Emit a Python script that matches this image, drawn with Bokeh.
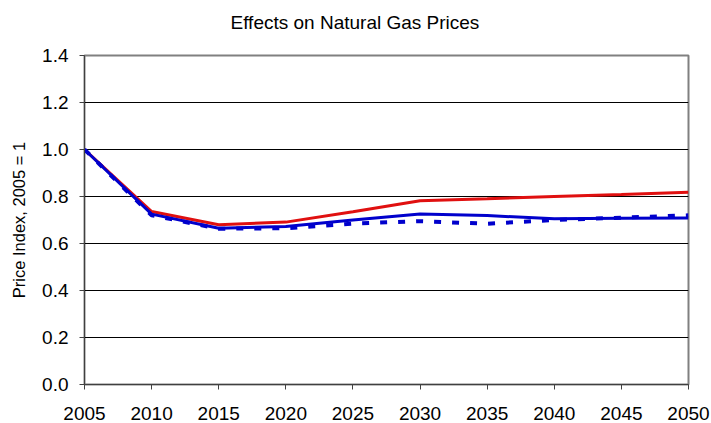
from bokeh.plotting import figure
from bokeh.models import Range1d, FixedTicker, NumeralTickFormatter
from bokeh.embed import file_html
from bokeh.resources import INLINE

years = [2005, 2010, 2015, 2020, 2025, 2030, 2035, 2040, 2045, 2050]
red_series = [1.0, 0.736, 0.680, 0.691, 0.735, 0.782, 0.790, 0.800, 0.808, 0.818]
blue_solid = [1.0, 0.725, 0.665, 0.672, 0.700, 0.726, 0.719, 0.705, 0.707, 0.709]
blue_dotted = [1.0, 0.720, 0.663, 0.665, 0.685, 0.695, 0.684, 0.700, 0.710, 0.720]
x_ticks = [2005, 2010, 2015, 2020, 2025, 2030, 2035, 2040, 2045, 2050]
y_ticks = [0.0, 0.2, 0.4, 0.6, 0.8, 1.0, 1.2, 1.4]
title_text = "Effects on Natural Gas Prices"

FONT = "Liberation Sans"

p = figure(width=711, height=423, output_backend="svg", toolbar_location=None,
           x_range=Range1d(2005, 2050), y_range=Range1d(0, 1.4),
           min_border_left=84, min_border_right=23, min_border_top=55,
           min_border_bottom=39, title=title_text + "\n")

p.title.text_font = FONT
p.title.text_font_size = "19px"
p.title.text_font_style = "normal"
p.title.align = "left"
p.title.offset = 146
p.title.vertical_align = "bottom"
p.title.standoff = 4
p.title.text_color = "black"

p.outline_line_color = "#808080"
p.outline_line_width = 2
p.background_fill_color = "white"
p.border_fill_color = "white"

p.xgrid.grid_line_color = None
p.ygrid.grid_line_color = "black"
p.ygrid.grid_line_width = 1
p.ygrid.ticker = FixedTicker(ticks=y_ticks)

p.xaxis.ticker = FixedTicker(ticks=x_ticks)
p.yaxis.ticker = FixedTicker(ticks=y_ticks)
p.yaxis.formatter = NumeralTickFormatter(format="0.0")
for ax in (p.xaxis, p.yaxis):
    ax.major_label_text_font = FONT
    ax.major_label_text_font_size = "19px"
    ax.major_label_text_color = "black"
    ax.axis_line_color = "#404040"
    ax.axis_line_width = 1
    ax.major_tick_line_color = "#404040"
    ax.major_tick_out = 5
    ax.major_tick_in = 0
    ax.minor_tick_line_color = None
p.xaxis.major_label_standoff = 17
p.yaxis.major_label_standoff = 11

p.yaxis.axis_label = "Price Index, 2005 = 1"
p.yaxis.axis_label_text_font = FONT
p.yaxis.axis_label_text_font_size = "16.5px"
p.yaxis.axis_label_text_font_style = "normal"
p.yaxis.axis_label_text_color = "black"
p.yaxis.axis_label_standoff = 11

p.line(years, red_series, line_color="#e01010", line_width=3)
p.line(years, blue_dotted, line_color="#0000cc", line_width=4, line_dash="7 11")
p.line(years, blue_solid, line_color="#0000cc", line_width=3)

open("out.html", "w").write(file_html(p, INLINE))
